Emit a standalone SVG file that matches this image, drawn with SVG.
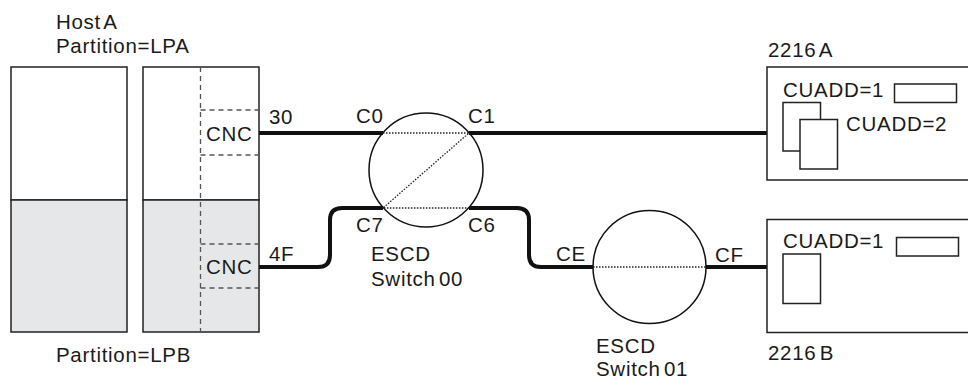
<svg xmlns="http://www.w3.org/2000/svg" width="968" height="379" viewBox="0 0 968 379">
<style>
text{font-family:"Liberation Sans",Arial,sans-serif;font-size:20.5px;fill:#1a1a1a;letter-spacing:0.7px}
.box{fill:#fff;stroke:#222;stroke-width:1.5}
.gray{fill:#e6e7e8;stroke:#222;stroke-width:1.5}
.dash{fill:none;stroke:#555;stroke-width:1.3;stroke-dasharray:5,4}
.thick{fill:none;stroke:#111;stroke-width:4;stroke-linejoin:round}
.dot{fill:none;stroke:#222;stroke-width:1.3;stroke-dasharray:1.5,1.5}
.sw{fill:none;stroke:#111;stroke-width:1.5}
</style>
<rect width="968" height="379" fill="#fff"/>
<g id="hostA">
<text x="56" y="29" word-spacing="-3">Host A</text>
<text x="56" y="53">Partition=LPA</text>
<text x="56" y="362">Partition=LPB</text>
<rect class="box" x="11" y="67" width="116" height="133"/>
<rect class="gray" x="11" y="200" width="116" height="132"/>
<rect class="box" x="143" y="67" width="116" height="133"/>
<rect class="gray" x="143" y="200" width="116" height="132"/>
<line class="dash" x1="200.5" y1="67" x2="200.5" y2="332"/>
<path class="dash" d="M200.5,110 H259 M200.5,155 H259 M200.5,244 H259 M200.5,288 H259"/>
<text x="206" y="141">CNC</text>
<text x="206" y="274">CNC</text>
</g>
<g id="connectors">
<path class="thick" d="M259,133 H383 M469,133 H783"/>
<path class="thick" d="M259,267 H318 Q330,267 330,255 V220 Q330,208 342,208 H383"/>
<path class="thick" d="M469,208 H517 Q529,208 529,220 V255 Q529,267 541,267 H593"/>
<path class="thick" d="M706,267 H783"/>
<text x="269" y="124">30</text>
<text x="269" y="261">4F</text>
<text x="356" y="123">C0</text>
<text x="468" y="123">C1</text>
<text x="356" y="232">C7</text>
<text x="468" y="232">C6</text>
<text x="556" y="261">CE</text>
<text x="715" y="262">CF</text>
</g>
<g id="switch00">
<circle class="sw" cx="426" cy="170" r="57"/>
<path class="dot" d="M383,133 H469 L383,208 H469"/>
<text x="371" y="261">ESCD</text>
<text x="371" y="286" word-spacing="-3">Switch 00</text>
</g>
<g id="switch01">
<circle class="sw" cx="649.5" cy="267" r="56.5"/>
<path class="dot" d="M593,267 H706"/>
<text x="596" y="353">ESCD</text>
<text x="596" y="376" word-spacing="-3">Switch 01</text>
</g>
<g id="cu2216A">
<text x="768" y="57" word-spacing="-3">2216 A</text>
<rect class="box" x="767" y="67" width="210" height="113"/>
<rect class="box" x="783" y="102.5" width="37.5" height="48.5"/>
<rect class="box" x="800" y="119.5" width="37.5" height="49.5"/>
<rect class="box" x="894.5" y="84" width="62" height="18.5"/>
<text x="783" y="97">CUADD=1</text>
<text x="846" y="131">CUADD=2</text>
</g>
<g id="cu2216B">
<text x="768" y="360" word-spacing="-3">2216 B</text>
<rect class="box" x="767" y="219.5" width="210" height="113"/>
<rect class="box" x="783" y="254" width="37.5" height="49.5"/>
<rect class="box" x="896.5" y="237.5" width="62" height="18.5"/>
<text x="783" y="248">CUADD=1</text>
</g>
</svg>
